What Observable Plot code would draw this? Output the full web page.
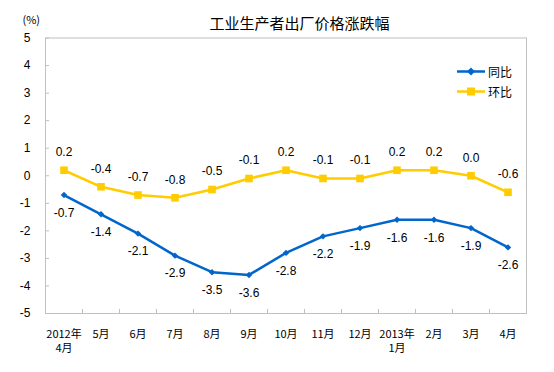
<!DOCTYPE html>
<html>
<head>
<meta charset="utf-8">
<script src="https://cdn.jsdelivr.net/npm/d3@7"></script>
<script src="https://cdn.jsdelivr.net/npm/@observablehq/plot@0.6"></script>
<style>
  html, body { margin: 0; padding: 0; background: #fff; }
  #wrap { position: relative; width: 554px; height: 372px; }
  #legend { position: absolute; left: 457px; top: 62px; font: 12px "Noto Sans CJK SC", sans-serif; color: #000; }
  #legend .row { display: flex; align-items: center; height: 19.5px; }
  #legend svg { margin-right: 3px; }
</style>
</head>
<body>
<div id="wrap"></div>
<script>
const title = "工业生产者出厂价格涨跌幅";
const unitLabel = "(%)";
const categories = ["2012年\n4月", "5月", "6月", "7月", "8月", "9月", "10月", "11月", "12月", "2013年\n1月", "2月", "3月", "4月"];
const yoyName = "同比";
const momName = "环比";
const yoy = [-0.7, -1.4, -2.1, -2.9, -3.5, -3.6, -2.8, -2.2, -1.9, -1.6, -1.6, -1.9, -2.6];
const mom = [0.2, -0.4, -0.7, -0.8, -0.5, -0.1, 0.2, -0.1, -0.1, 0.2, 0.2, 0.0, -0.6];
const yTicks = [-5, -4, -3, -2, -1, 0, 1, 2, 3, 4, 5];

const blue = "#0066cc";
const yellow = "#ffcc00";
const gray = "#c0c0c0";
const numFont = "'Liberation Sans', Arial, sans-serif";
const cjkFont = "'Noto Sans CJK SC', sans-serif";

const data = categories.map((c, i) => ({i, c, yoy: yoy[i], mom: mom[i]}));
const idx = categories.map((c, i) => i);
const bounds = categories.slice(1).map((c, i) => i + 0.5);

const chart = Plot.plot({
  width: 554,
  height: 372,
  marginLeft: 45,
  marginRight: 28,
  marginTop: 37.5,
  marginBottom: 59,
  style: {background: "#fff", color: "#000", fontFamily: numFont},
  x: {type: "linear", domain: [-0.5, categories.length - 0.5]},
  y: {domain: [-5, 5]},
  marks: [
    Plot.frame({stroke: gray}),
    Plot.axisY({ticks: yTicks, tickSize: -4, stroke: gray, fill: "none", label: null}),
    Plot.axisY({ticks: yTicks, tickSize: 0, tickPadding: 15, tickFormat: d => String(d), fontSize: 12, fontFamily: numFont, label: null}),
    Plot.axisX({ticks: bounds, tickSize: -4, stroke: gray, fill: "none", label: null}),
    Plot.axisX({ticks: idx, tickSize: 0, tickPadding: 14, tickFormat: i => categories[i], fontSize: 11, fontFamily: cjkFont, lineHeight: 1.3, label: null}),
    Plot.line(data, {x: "i", y: "yoy", stroke: blue, strokeWidth: 2.5}),
    Plot.dot(data, {x: "i", y: "yoy", symbol: "diamond2", r: 2.9, fill: blue, stroke: "none"}),
    Plot.line(data, {x: "i", y: "mom", stroke: yellow, strokeWidth: 2.5}),
    Plot.dot(data, {x: "i", y: "mom", symbol: "square", r: 4.3, fill: yellow, stroke: "none"}),
    Plot.text(data, {x: "i", y: "yoy", text: d => d.yoy.toFixed(1), dy: 18, fontSize: 12, fontFamily: numFont, fill: "#000"}),
    Plot.text(data, {x: "i", y: "mom", text: d => d.mom.toFixed(1), dy: -18, fontSize: 12, fontFamily: numFont, fill: "#000"}),
    Plot.text([title], {frameAnchor: "top", dx: 13.5, dy: -20, fontSize: 15, fontFamily: cjkFont, fill: "#000"}),
    Plot.text([unitLabel], {frameAnchor: "top-left", dx: -23, dy: -22, textAnchor: "start", fontSize: 11, fontFamily: cjkFont, fill: "#000"})
  ]
});

const wrap = document.getElementById("wrap");
wrap.appendChild(chart);

const legend = document.createElement("div");
legend.id = "legend";
const items = [
  {name: yoyName, color: blue, shape: "diamond"},
  {name: momName, color: yellow, shape: "square"}
];
for (const it of items) {
  const row = document.createElement("div");
  row.className = "row";
  const marker = it.shape === "diamond"
    ? `<path d="M14,1.5L18,5.5L14,9.5L10,5.5Z" fill="${it.color}"/>`
    : `<rect x="10" y="1.5" width="8" height="8" fill="${it.color}"/>`;
  row.innerHTML = `<svg width="28" height="11"><line x1="0" x2="28" y1="5.5" y2="5.5" stroke="${it.color}" stroke-width="2.5"/>${marker}</svg><span>${it.name}</span>`;
  legend.appendChild(row);
}
wrap.appendChild(legend);
</script>
</body>
</html>
